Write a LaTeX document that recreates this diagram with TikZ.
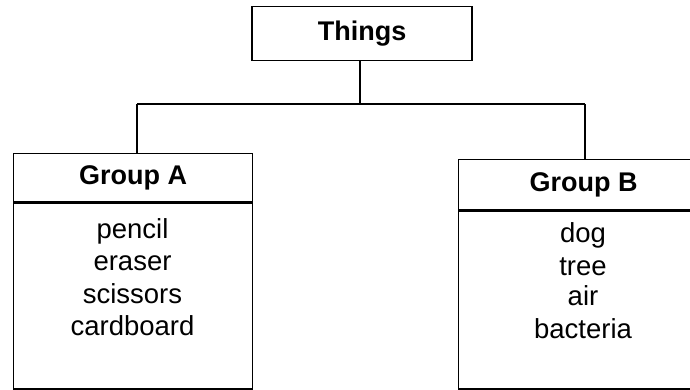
\documentclass[tikz,border=0pt]{standalone}
\usepackage{fontspec}
\setmainfont{Liberation Sans}
\begin{document}
\begin{tikzpicture}[x=1pt,y=-1pt,
  boxstyle/.style={draw=black,line width=1.3pt,rectangle,inner sep=0pt},
  headtext/.style={font=\fontsize{27}{30}\selectfont\bfseries},
  itemtext/.style={font=\fontsize{27.5}{30}\selectfont,inner sep=0pt,anchor=base},
  link/.style={draw=black,line width=1.3pt}]
\useasboundingbox (0,0) rectangle (690,389);
\clip (0,0) rectangle (690,389);
% Top node
\node[boxstyle,headtext,minimum width=220pt,minimum height=54pt] (things) at (362,33.5) {Things};
% Group A
\node[boxstyle,headtext,minimum width=239pt,minimum height=48pt,anchor=north west] (ha) at (13,153) {Group A};
\node[boxstyle,minimum width=239pt,minimum height=186pt,anchor=north] (ba) at (ha.south) {};
\node[itemtext] (a1) at (132.5,238) {pencil};
\node[itemtext] (a2) at (132.5,270) {eraser};
\node[itemtext] (a3) at (132.5,303) {scissors};
\node[itemtext] (a4) at (132.5,335) {cardboard};
% Group B
\node[boxstyle,headtext,minimum width=250pt,minimum height=50pt,anchor=north west] (hb) at (458,159) {Group B};
\node[boxstyle,minimum width=250pt,minimum height=178pt,anchor=north] (bb) at (hb.south) {};
\node[itemtext] (b1) at (583,242) {dog};
\node[itemtext] (b2) at (583,275) {tree};
\node[itemtext] (b3) at (583,305) {air};
\node[itemtext] (b4) at (583,338) {bacteria};
% Connectors
\coordinate (mid) at (360,104);
\coordinate (la) at (137,104);
\coordinate (lb) at (585,104);
\draw[link] (things.south -| mid) -- (mid);
\draw[link] (la) -- (lb);
\draw[link] (la) -- (la |- ha.north);
\draw[link] (lb) -- (lb |- hb.north);
\end{tikzpicture}
\end{document}
